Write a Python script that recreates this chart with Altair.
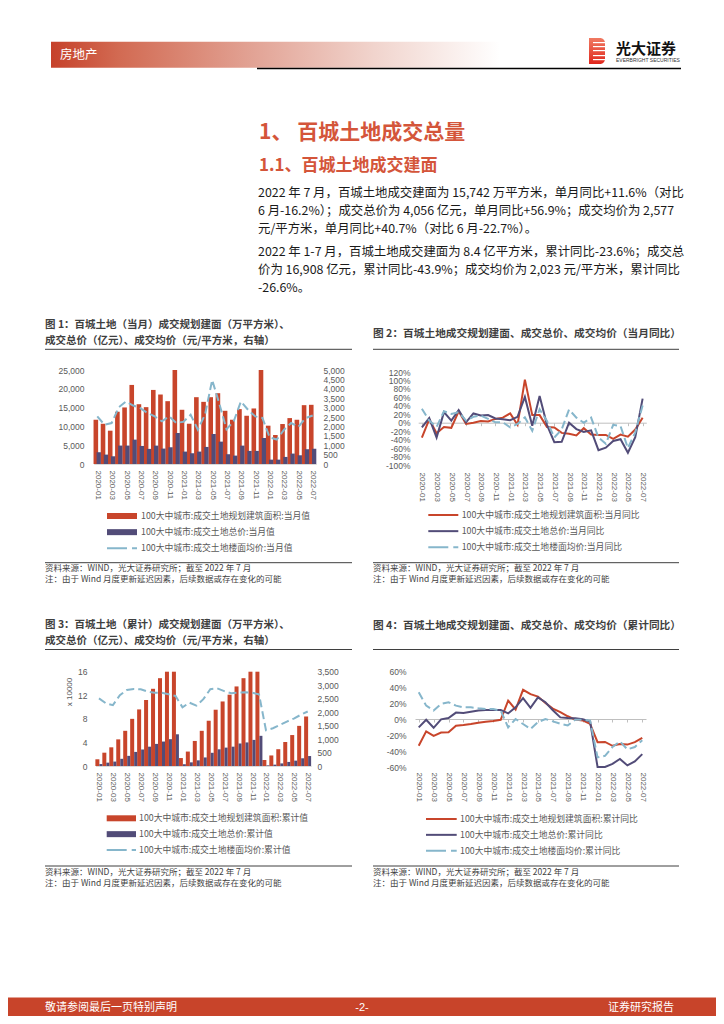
import altair as alt
import pandas as pd

# ---------------- data ----------------
months = ["2020-01", "2020-02", "2020-03", "2020-04", "2020-05", "2020-06", "2020-07", "2020-08",
          "2020-09", "2020-10", "2020-11", "2020-12", "2021-01", "2021-02", "2021-03", "2021-04",
          "2021-05", "2021-06", "2021-07", "2021-08", "2021-09", "2021-10", "2021-11", "2021-12",
          "2022-01", "2022-02", "2022-03", "2022-04", "2022-05", "2022-06", "2022-07"]
tick_months = ["2020-01", "2020-03", "2020-05", "2020-07", "2020-09", "2020-11", "2021-01", "2021-03",
               "2021-05", "2021-07", "2021-09", "2021-11", "2022-01", "2022-03", "2022-05", "2022-07"]

# Fig 1: monthly values
f1_area = [11770, 10700, 8860, 13900, 15040, 21030, 15900, 15120, 19700, 18480, 16710, 35000,
           14420, 10710, 17770, 16530, 17770, 18830, 14150, 11770, 14600, 12830, 14770, 25500,
           10190, 7720, 10630, 12210, 11770, 15650, 15742]
f1_price = [3130, 2500, 2050, 4900, 4900, 6480, 4800, 4020, 4890, 4100, 4450, 8250,
            3300, 2860, 3300, 4540, 7980, 5950, 2600, 2230, 4890, 3480, 3480, 6920,
            1160, 1160, 1880, 2770, 2320, 3930, 4056]
f1_avg = [2530, 2090, 2180, 3020, 3320, 3110, 2970, 2710, 2530, 2270, 2530, 2180,
          2250, 2620, 1830, 2620, 4470, 3200, 1850, 2270, 3320, 2880, 2530, 2450,
          1420, 1300, 1820, 2180, 1970, 2440, 2577]

# Fig 2: monthly YoY (%)
f2_area = [-35, 8, -25, -10, -12, 27, -3, 0, 4, 3, 9, 12, 22, -5, 102, 18, 18, -10, -11, -24,
           -26, -30, -13, -28, -29, -29, -38, -28, -33, -16.2, 11.6]
f2_price = [-11, 11, -35, 25, 5, 30, 1, 22, 17, 18, 10, 8, 6, 14, 61, -7, 63, -5, -46, -45,
            0, -15, -22, -18, -65, -59, -43, -39, -71, -34, 56.9]
f2_avg = [33, 5, -10, 27, 21, 25, 5, 14, 17, 9, 1, 1, -11, -3, 13, -19, 32, 4, -35, -16,
          31, 12, 0, 12, -35, -50, -5, -8, -60, -22.7, 40.7]

# Fig 3: cumulative values (x 10000)
f3_area = [1.14, 2.26, 3.17, 4.52, 5.97, 8.0, 9.6, 11.2, 13.1, 14.9, 16.6, 20.2,
           1.35, 2.45, 4.25, 5.97, 7.68, 9.55, 10.95, 12.1, 13.5, 14.9, 16.4, 19.0,
           1.02, 1.79, 2.85, 4.07, 5.25, 6.81, 8.40]
f3_price = [0.33, 0.57, 0.75, 1.22, 1.72, 2.39, 2.8, 3.28, 3.75, 4.15, 4.55, 5.38,
            0.3, 0.62, 0.96, 1.45, 2.24, 2.83, 3.12, 3.28, 3.82, 4.0, 4.43, 5.12,
            0.11, 0.23, 0.44, 0.69, 0.91, 1.31, 1.69]
f3_avg = [2510, 2325, 2260, 2630, 2820, 2855, 2845, 2760, 2720, 2720, 2660, 2600,
          2180, 2350, 2240, 2480, 2850, 2880, 2780, 2700, 2720, 2740, 2720, 2660,
          1330, 1400, 1520, 1650, 1760, 1900, 2023]

# Fig 4: cumulative YoY (%)
f4_area = [-33.5, -15.5, -21, -17, -16.7, -8.4, -7.5, -6.3, -4.6, -3.3, -2.5, -1,
           23, 11.8, 36.5, 31, 28, 20, 13, 8.6, 3.4, -0.7, -1.8, -6.2,
           -29, -28.7, -33.5, -31.4, -32, -29, -23.6]
f4_price = [-10.5, -1, -11, -0.4, 1.3, 8, 7.5, 9, 10.5, 11.3, 11.3, 11.3,
            7, 14.6, 26, 14, 27, 21, 11, 2, 1.3, 1, -0.4, -3.3,
            -64, -63, -56, -50, -58, -53, -43.9]
f4_avg = [33.5, 16.7, 10.5, 18.8, 21, 16.7, 14.6, 14.6, 13.4, 12.5, 12.5, 10.5,
          -10.5, 0, -6.3, -12.5, -4, 0, -3, -6, -8, -1, -1, -2,
          -48, -46, -35, -28, -38, -35, -26.6]

f1_labels = ["100大中城市:成交土地规划建筑面积:当月值", "100大中城市:成交土地总价:当月值",
             "100大中城市:成交土地楼面均价:当月值"]
f2_labels = ["100大中城市:成交土地规划建筑面积:当月同比", "100大中城市:成交土地总价:当月同比",
             "100大中城市:成交土地楼面均价:当月同比"]
f3_labels = ["100大中城市:成交土地规划建筑面积:累计值", "100大中城市:成交土地总价:累计值",
             "100大中城市:成交土地楼面均价:累计值"]
f4_labels = ["100大中城市:成交土地规划建筑面积:累计同比", "100大中城市:成交土地总价:累计同比",
             "100大中城市:成交土地楼面均价:累计同比"]

f1_left_ticks = [0, 5000, 10000, 15000, 20000, 25000]
f1_right_ticks = [0, 500, 1000, 1500, 2000, 2500, 3000, 3500, 4000, 4500, 5000]
f2_ticks = [-100, -80, -60, -40, -20, 0, 20, 40, 60, 80, 100, 120]
f3_left_ticks = [0, 4, 8, 12, 16]
f3_right_ticks = [0, 500, 1000, 1500, 2000, 2500, 3000, 3500]
f4_ticks = [-60, -40, -20, 0, 20, 40, 60]

heading1 = "1、 百城土地成交总量"
heading2 = "1.1、百城土地成交建面"
para1 = ["2022 年 7 月，百城土地成交建面为 15,742 万平方米，单月同比+11.6%（对比",
         "6 月-16.2%）；成交总价为 4,056 亿元，单月同比+56.9%；成交均价为 2,577",
         "元/平方米，单月同比+40.7%（对比 6 月-22.7%）。"]
para2 = ["2022 年 1-7 月，百城土地成交建面为 8.4 亿平方米，累计同比-23.6%；成交总",
         "价为 16,908 亿元，累计同比-43.9%；成交均价为 2,023 元/平方米，累计同比",
         "-26.6%。"]
fig1_title = ["图 1：百城土地（当月）成交规划建面（万平方米）、", "成交总价（亿元）、成交均价（元/平方米，右轴）"]
fig2_title = "图 2：百城土地成交规划建面、成交总价、成交均价（当月同比）"
fig3_title = ["图 3：百城土地（累计）成交规划建面（万平方米）、", "成交总价（亿元）、成交均价（元/平方米，右轴）"]
fig4_title = "图 4：百城土地成交规划建面、成交总价、成交均价（累计同比）"
source1 = "资料来源：WIND，光大证券研究所；截至 2022 年 7 月"
source2 = "注：由于 Wind 月度更新延迟因素，后续数据或存在变化的可能"

# ---------------- style ----------------
RED = "#C8452B"
NAVY = "#524C78"
BLUE = "#86B6CB"
GRAY = "#595959"
DARK = "#3F3F3F"
TITLE_RED = "#D4553A"
CJK = "Noto Sans CJK SC"
NUM = "Liberation Sans"
W, H = 708, 1008


def P(v):
    """page pixel -> chart pixel (page has an 8px margin)"""
    return v - 8


ONE = alt.Data(values=[{}])


def txt(x, y, s, size=12, color="#1A1A1A", weight="normal", align="left", font=CJK, angle=0):
    return alt.Chart(ONE).mark_text(text=s, fontSize=size, color=color, fontWeight=weight,
                                    align=align, baseline="middle", font=font, angle=angle).encode(
        x=alt.value(P(x)), y=alt.value(P(y)))


def hline(x1, x2, y, color=DARK, width=1.0):
    return alt.Chart(ONE).mark_rule(color=color, strokeWidth=width).encode(
        x=alt.value(P(x1)), x2=alt.value(P(x2)), y=alt.value(P(y)))


def box(x1, x2, y1, y2, fill, **kw):
    return alt.Chart(ONE).mark_rect(fill=fill, **kw).encode(
        x=alt.value(P(x1)), x2=alt.value(P(x2)), y=alt.value(P(y1)), y2=alt.value(P(y2)))


def frame(values, key):
    return pd.DataFrame({"m": months, "v": values, "k": key})


def xscale(a, b):
    return alt.Scale(type="point", domain=months, range=[P(a), P(b)], padding=0.5)


def yscale(lo, hi, ybot, ytop, clamp=False):
    return alt.Scale(domain=[lo, hi], range=[P(ybot), P(ytop)], nice=False, zero=False, clamp=clamp)


def bottom_axis(axis_y, pad, domain_color=None):
    kw = dict(orient="bottom", offset=P(axis_y) - H, values=tick_months, labelAngle=90,
              labelFont=NUM, labelFontSize=8, labelColor=GRAY, labelPadding=pad, ticks=False,
              grid=False, title=None, labelOverlap=False)
    if domain_color:
        kw.update(domain=True, domainColor=domain_color, domainWidth=1)
    else:
        kw.update(domain=False)
    return alt.Axis(**kw)


def zero_axis(axis_y):
    return alt.Axis(orient="bottom", offset=P(axis_y) - H, values=tick_months, labels=False,
                    ticks=True, tickSize=3, tickColor="#BFBFBF", domain=True, domainColor="#BFBFBF",
                    domainWidth=1, grid=False, title=None)


def y_axis(orient, axis_x, values, fmt=None, expr=None):
    off = -P(axis_x) if orient == "left" else P(axis_x) - W
    kw = dict(orient=orient, offset=off, values=values, labelFont=NUM, labelFontSize=8.5,
              labelColor=GRAY, labelPadding=2, ticks=False, domain=False, grid=False, title=None,
              labelOverlap=False, labelFlush=False)
    if fmt:
        kw["format"] = fmt
    if expr:
        kw["labelExpr"] = expr
    return alt.Axis(**kw)


def legend(labels, colors, widths, dashes, y1, y3, sx0, sx1, tx):
    ys = alt.Scale(type="point", domain=labels, range=[P(y1), P(y3)], padding=0)
    out = []
    for lab, c, w, d in zip(labels, colors, widths, dashes):
        m = dict(color=c, strokeWidth=w)
        if d:
            m["strokeDash"] = d
        out.append(alt.Chart(pd.DataFrame({"k": [lab]})).mark_rule(**m).encode(
            y=alt.Y("k:N", scale=ys, axis=None), x=alt.value(P(sx0)), x2=alt.value(P(sx1))))
    out.append(alt.Chart(pd.DataFrame({"k": labels})).mark_text(
        align="left", baseline="middle", font=CJK, fontSize=8.8, color=GRAY).encode(
        y=alt.Y("k:N", scale=ys, axis=None), x=alt.value(P(tx)), text="k:N"))
    return out


PCT = "datum.value + '%'"
THOUSANDS = ",.0f"
DASH = [8, 4]
layers = []

# ---------------- header ----------------
grad = alt.LinearGradient(gradient="linear", x1=0, x2=1, y1=0, y2=0, stops=[
    alt.GradientStop(color="#C6412A", offset=0),
    alt.GradientStop(color="#D26A52", offset=0.15),
    alt.GradientStop(color="#E2A395", offset=0.45),
    alt.GradientStop(color="#F1D4CD", offset=0.72),
    alt.GradientStop(color="#FFFFFF", offset=1)])
layers.append(box(51, 500, 41.7, 67.7, grad))
layers.append(txt(60, 54.5, "房地产", size=12.5, color="#FFFFFF"))
layers.append(hline(257, 681, 68.5, "#000000", 1.5))
logo_grad = alt.LinearGradient(gradient="linear", x1=0, x2=0, y1=0, y2=1, stops=[
    alt.GradientStop(color="#F07A62", offset=0),
    alt.GradientStop(color="#E0261C", offset=1)])
layers.append(box(589, 605, 38, 64, logo_grad, cornerRadiusTopRight=5, cornerRadiusBottomRight=5))
for yy in (42, 46, 50, 55, 59):
    layers.append(box(593, 605, yy, yy + 1.2, "#FFFFFF"))
layers.append(txt(616, 48.5, "光大证券", size=15, color="#111111", weight="bold"))
layers.append(txt(616, 60, "EVERBRIGHT SECURITIES", size=5, color="#333333", font=NUM))

# ---------------- section text ----------------
layers.append(txt(259, 133, heading1, size=21, color=TITLE_RED, weight="bold"))
layers.append(txt(259, 165.5, heading2, size=17, color=TITLE_RED, weight="bold"))
for i, line in enumerate(para1):
    layers.append(txt(258, 193 + 18 * i, line, size=12.4))
for i, line in enumerate(para2):
    layers.append(txt(258, 251.5 + 18 * i, line, size=12.4))

# ---------------- figure titles / sources ----------------
layers.append(txt(45, 325, fig1_title[0], size=10.5, color=DARK, weight="bold"))
layers.append(txt(45, 340.7, fig1_title[1], size=10.5, color=DARK, weight="bold"))
layers.append(hline(45, 352, 349.3))
layers.append(txt(373, 334, fig2_title, size=10.7, color=DARK, weight="bold"))
layers.append(hline(373, 679, 349.3))
layers.append(txt(45, 625, fig3_title[0], size=10.5, color=DARK, weight="bold"))
layers.append(txt(45, 641, fig3_title[1], size=10.5, color=DARK, weight="bold"))
layers.append(hline(45, 352, 649.5))
layers.append(txt(373, 626, fig4_title, size=10.7, color=DARK, weight="bold"))
layers.append(hline(373, 679, 649.5))

for (x1, x2, ly, ty) in [(45, 352, 562.7, 568), (373, 679, 562.7, 568), (45, 352, 866, 872), (373, 679, 866, 872)]:
    layers.append(hline(x1, x2, ly, DARK, 1))
    layers.append(txt(x1, ty, source1, size=8.5, color=DARK))
    layers.append(txt(x1, ty + 11.2, source2, size=8.5, color=DARK))

# ---------------- Figure 1 ----------------
x1s = xscale(93.7, 316.3)
y1l = yscale(0, 25000, 464, 370, clamp=True)
y1r = yscale(0, 5000, 464, 370)
layers.append(alt.Chart(frame(f1_area, f1_labels[0])).mark_bar(size=4.6, xOffset=-1.45, color=RED).encode(
    x=alt.X("m:N", scale=x1s, axis=bottom_axis(464, 6, "#D9D9D9")),
    y=alt.Y("v:Q", scale=y1l, axis=y_axis("left", 86, f1_left_ticks, fmt=THOUSANDS))))
layers.append(alt.Chart(frame(f1_price, f1_labels[1])).mark_bar(size=4.3, xOffset=1.45, color=NAVY).encode(
    x=alt.X("m:N", scale=x1s, axis=None),
    y=alt.Y("v:Q", scale=y1l, axis=None)))
layers.append(alt.Chart(frame(f1_avg, f1_labels[2])).mark_line(color=BLUE, strokeWidth=2, strokeDash=DASH).encode(
    x=alt.X("m:N", scale=x1s, axis=None),
    y=alt.Y("v:Q", scale=y1r, axis=y_axis("right", 321, f1_right_ticks, fmt=THOUSANDS))))
layers += legend(f1_labels, [RED, NAVY, BLUE], [6, 6, 2], [None, None, [20, 5]], 516, 548.3, 107, 137, 141)

# ---------------- Figure 2 ----------------
x2s = xscale(418.2, 646.3)
y2s = yscale(-100, 120, 465, 372)
layers.append(alt.Chart(frame(f2_area, f2_labels[0])).mark_line(color=RED, strokeWidth=2).encode(
    x=alt.X("m:N", scale=x2s, axis=bottom_axis(469, 3)),
    y=alt.Y("v:Q", scale=y2s, axis=y_axis("left", 412, f2_ticks, expr=PCT))))
layers.append(alt.Chart(frame(f2_price, f2_labels[1])).mark_line(color=NAVY, strokeWidth=2).encode(
    x=alt.X("m:N", scale=x2s, axis=zero_axis(422.7)),
    y=alt.Y("v:Q", scale=y2s, axis=None)))
layers.append(alt.Chart(frame(f2_avg, f2_labels[2])).mark_line(color=BLUE, strokeWidth=2, strokeDash=DASH).encode(
    x=alt.X("m:N", scale=x2s, axis=None),
    y=alt.Y("v:Q", scale=y2s, axis=None)))
layers += legend(f2_labels, [RED, NAVY, BLUE], [2, 2, 2], [None, None, [20, 5]], 515, 547.3, 428.3, 458.3, 461.7)

# ---------------- Figure 3 ----------------
x3s = xscale(95.5, 311.2)
y3l = yscale(0, 16, 766, 671.7, clamp=True)
y3r = yscale(0, 3500, 766, 671.7)
layers.append(alt.Chart(frame(f3_area, f3_labels[0])).mark_bar(size=4.0, xOffset=-1.6, color=RED).encode(
    x=alt.X("m:N", scale=x3s, axis=bottom_axis(766, 6, "#D9D9D9")),
    y=alt.Y("v:Q", scale=y3l, axis=y_axis("left", 89, f3_left_ticks))))
layers.append(alt.Chart(frame(f3_price, f3_labels[1])).mark_bar(size=3.0, xOffset=1.9, color=NAVY).encode(
    x=alt.X("m:N", scale=x3s, axis=None),
    y=alt.Y("v:Q", scale=y3l, axis=None)))
layers.append(alt.Chart(frame(f3_avg, f3_labels[2])).mark_line(color=BLUE, strokeWidth=2, strokeDash=DASH).encode(
    x=alt.X("m:N", scale=x3s, axis=None),
    y=alt.Y("v:Q", scale=y3r, axis=y_axis("right", 315, f3_right_ticks, fmt=THOUSANDS))))
layers.append(txt(70, 692, "x 10000", size=8, color=GRAY, font=NUM, align="center", angle=270))
layers += legend(f3_labels, [RED, NAVY, BLUE], [6, 6, 2], [None, None, [20, 5]], 818.3, 850, 106.7, 136, 139)

# ---------------- Figure 4 ----------------
x4s = xscale(415, 646)
y4s = yscale(-60, 60, 767, 671, clamp=True)
layers.append(alt.Chart(frame(f4_area, f4_labels[0])).mark_line(color=RED, strokeWidth=2).encode(
    x=alt.X("m:N", scale=x4s, axis=bottom_axis(769, 3)),
    y=alt.Y("v:Q", scale=y4s, axis=y_axis("left", 408, f4_ticks, expr=PCT))))
layers.append(alt.Chart(frame(f4_price, f4_labels[1])).mark_line(color=NAVY, strokeWidth=2).encode(
    x=alt.X("m:N", scale=x4s, axis=zero_axis(719)),
    y=alt.Y("v:Q", scale=y4s, axis=None)))
layers.append(alt.Chart(frame(f4_avg, f4_labels[2])).mark_line(color=BLUE, strokeWidth=2, strokeDash=DASH).encode(
    x=alt.X("m:N", scale=x4s, axis=None),
    y=alt.Y("v:Q", scale=y4s, axis=None)))
layers += legend(f4_labels, [RED, NAVY, BLUE], [2, 2, 2], [None, None, [20, 5]], 819, 850.7, 426, 456.7, 460)

# ---------------- footer ----------------
layers.append(box(0, 740, 997.5, 1030, "#C8442A"))
layers.append(txt(45, 1007.5, "敬请参阅最后一页特别声明", size=11, color="#FFFFFF"))
layers.append(txt(362, 1007.5, "-2-", size=11, color="#FFFFFF", align="center", font=NUM))
layers.append(txt(674, 1007.5, "证券研究报告", size=11, color="#FFFFFF", align="right"))

chart = alt.layer(*layers).resolve_scale(
    x="independent", y="independent", color="independent"
).resolve_axis(x="independent", y="independent").properties(
    width=W, height=H, autosize=alt.AutoSizeParams(type="none"), padding=0, background="white"
).configure_view(stroke=None)

chart.save("out.html", embed_options={"renderer": "svg", "actions": False})
